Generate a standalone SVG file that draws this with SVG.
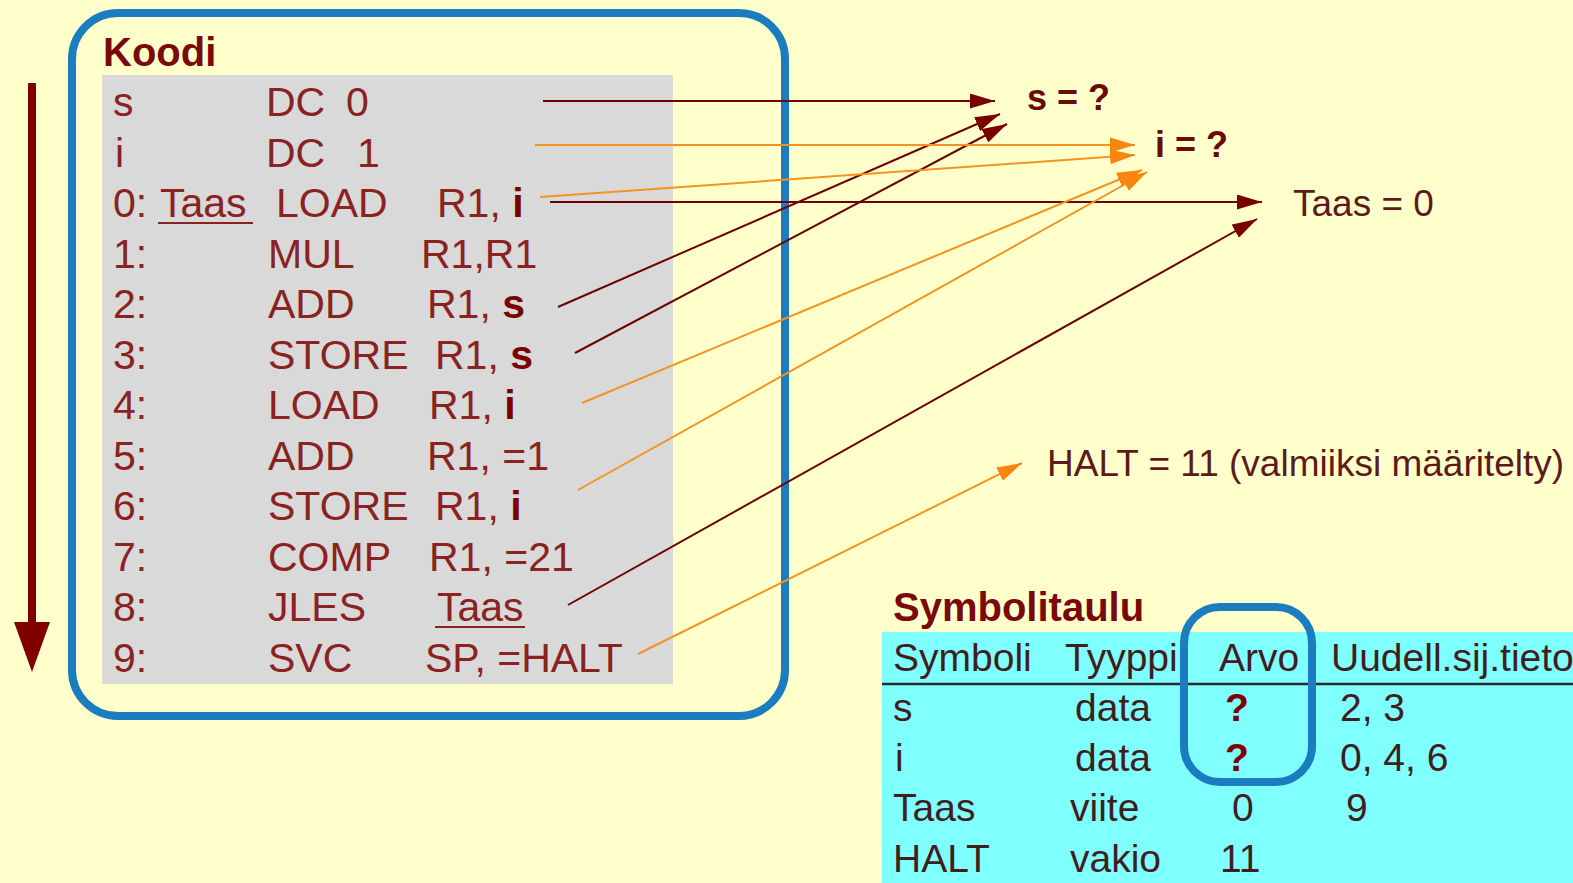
<svg xmlns="http://www.w3.org/2000/svg" width="1573" height="883" viewBox="0 0 1573 883">
  <defs>
    <style>
      text { font-family: "Liberation Sans", Arial, sans-serif; }
      .code { font-size: 41px; fill: #8a2222; }
      .b { font-weight: bold; fill: #7a0000; }
      .title { font-size: 40px; font-weight: bold; fill: #7a0a0a; }
      .lbl { font-size: 37px; fill: #5c1a1a; }
      .lblb { font-size: 36px; font-weight: bold; fill: #6a0a0a; }
      .tbl { font-size: 39px; fill: #3f1e1e; }
      .red { stroke: #6e0000; stroke-width: 2; fill: none; marker-end: url(#ahRed); }
      .orn { stroke: #f39322; stroke-width: 2; fill: none; marker-end: url(#ahOrn); }
      .box { fill: none; stroke: #1b7dbf; stroke-width: 8; }
    </style>
    <marker id="ahRed" viewBox="0 0 10 10" refX="10" refY="5" markerWidth="25" markerHeight="15" markerUnits="userSpaceOnUse" orient="auto" preserveAspectRatio="none">
      <path d="M0,0 L10,5 L0,10 z" fill="#7a0000"/>
    </marker>
    <marker id="ahOrn" viewBox="0 0 10 10" refX="10" refY="5" markerWidth="25" markerHeight="15" markerUnits="userSpaceOnUse" orient="auto" preserveAspectRatio="none">
      <path d="M0,0 L10,5 L0,10 z" fill="#f7860f"/>
    </marker>
  </defs>

  <!-- page -->
  <rect width="1573" height="883" fill="#ffffcc"/>

  <!-- execution order arrow -->
  <g id="flow-arrow">
    <line x1="32" y1="83" x2="32" y2="630" stroke="#800000" stroke-width="8"/>
    <polygon points="14,622 50,622 32,672" fill="#800000"/>
  </g>

  <!-- code block -->
  <g id="code">
    <rect x="72" y="13" width="713" height="703" rx="46" class="box"/>
    <text x="103" y="66" class="title">Koodi</text>
    <rect x="102" y="75" width="571" height="609" fill="#d9d9d9"/>

    <text class="code" x="113" y="116">s<tspan x="266">DC</tspan><tspan x="346">0</tspan></text>
    <text class="code" x="115" y="166.5">i<tspan x="266">DC</tspan><tspan x="357">1</tspan></text>
    <text class="code" x="113" y="217">0:<tspan x="160">Taas</tspan><tspan x="276">LOAD</tspan><tspan x="437">R1, </tspan><tspan class="b">i</tspan></text>
    <line x1="158" y1="223" x2="253" y2="223" stroke="#8a2222" stroke-width="2"/>
    <text class="code" x="113" y="267.5">1:<tspan x="268">MUL</tspan><tspan x="421">R1,R1</tspan></text>
    <text class="code" x="113" y="318">2:<tspan x="268">ADD</tspan><tspan x="427">R1, </tspan><tspan class="b">s</tspan></text>
    <text class="code" x="113" y="368.5">3:<tspan x="268">STORE</tspan><tspan x="435">R1, </tspan><tspan class="b">s</tspan></text>
    <text class="code" x="113" y="419">4:<tspan x="268">LOAD</tspan><tspan x="429">R1, </tspan><tspan class="b">i</tspan></text>
    <text class="code" x="113" y="469.5">5:<tspan x="268">ADD</tspan><tspan x="427">R1, =1</tspan></text>
    <text class="code" x="113" y="520">6:<tspan x="268">STORE</tspan><tspan x="435">R1, </tspan><tspan class="b">i</tspan></text>
    <text class="code" x="113" y="570.5">7:<tspan x="268">COMP</tspan><tspan x="429">R1, =21</tspan></text>
    <text class="code" x="113" y="621">8:<tspan x="268">JLES</tspan><tspan x="437">Taas</tspan></text>
    <line x1="435" y1="627" x2="525" y2="627" stroke="#8a2222" stroke-width="2"/>
    <text class="code" x="113" y="671.5">9:<tspan x="268">SVC</tspan><tspan x="425">SP, =HALT</tspan></text>
  </g>

  <!-- resolved values -->
  <g id="val-s"><text x="1027" y="110" class="lblb">s = ?</text></g>
  <g id="val-i"><text x="1155" y="157" class="lblb">i = ?</text></g>
  <g id="val-taas"><text x="1293" y="216" class="lbl">Taas = 0</text></g>
  <g id="val-halt"><text x="1047" y="476" class="lbl">HALT = 11 (valmiiksi määritelty)</text></g>

  <!-- references from the code to the symbols -->
  <g id="connectors">
    <line class="red" x1="543" y1="101" x2="995" y2="101"/>
    <line class="red" x1="558" y1="307" x2="1000" y2="114"/>
    <line class="red" x1="575" y1="353" x2="1007" y2="124"/>
    <line class="red" x1="550" y1="202" x2="1262" y2="202"/>
    <line class="red" x1="568" y1="605" x2="1257" y2="219"/>

    <line class="orn" x1="535" y1="145" x2="1135" y2="145"/>
    <line class="orn" x1="540" y1="197" x2="1135" y2="155"/>
    <line class="orn" x1="582" y1="403" x2="1142" y2="170"/>
    <line class="orn" x1="578" y1="490" x2="1147" y2="172"/>
    <line class="orn" x1="638" y1="654" x2="1022" y2="463"/>
  </g>

  <!-- symbol table -->
  <g id="symbol-table">
    <text x="893" y="621" class="title">Symbolitaulu</text>
    <rect x="882" y="632" width="691" height="251" fill="#80ffff"/>
    <text class="tbl" y="671"><tspan x="893">Symboli</tspan><tspan x="1065">Tyyppi</tspan><tspan x="1219">Arvo</tspan><tspan x="1331">Uudell.sij.tieto</tspan></text>
    <line x1="882" y1="684" x2="1573" y2="684" stroke="#2a2a2a" stroke-width="2.5"/>
    <text class="tbl" y="721"><tspan x="893">s</tspan><tspan x="1075">data</tspan><tspan x="1225" class="b">?</tspan><tspan x="1340">2, 3</tspan></text>
    <text class="tbl" y="771"><tspan x="895">i</tspan><tspan x="1075">data</tspan><tspan x="1225" class="b">?</tspan><tspan x="1340">0, 4, 6</tspan></text>
    <text class="tbl" y="821"><tspan x="893">Taas</tspan><tspan x="1070">viite</tspan><tspan x="1232">0</tspan><tspan x="1346">9</tspan></text>
    <text class="tbl" y="872"><tspan x="893">HALT</tspan><tspan x="1070">vakio</tspan><tspan x="1220">11</tspan></text>
    <rect x="1184" y="607" width="128" height="175" rx="36" class="box" stroke-width="6"/>
  </g>
</svg>
